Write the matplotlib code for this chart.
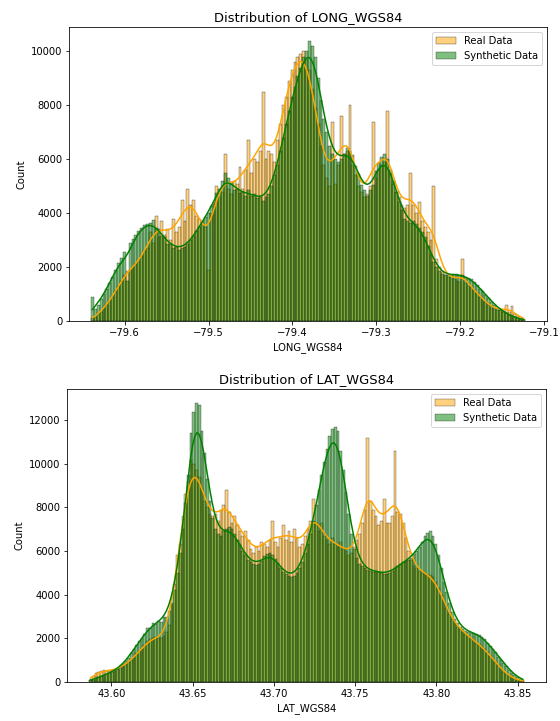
import numpy as np
import matplotlib
matplotlib.use("Agg")
from matplotlib import pyplot as plt
import seaborn as sns

# bin ranges
long_range = (-79.640, -79.123)
lat_range = (43.5862, 43.8541)

# counts per bin (150 bins), LONG_WGS84
long_real = [
  100, 150, 250, 350, 500, 600, 750, 900, 1100, 1300,
  1500, 1700, 1850, 1900, 2000, 2100, 2200, 2400, 2600, 2700,
  3300, 2900, 3900, 3100, 3700, 3200, 3400, 3000, 3800, 3300,
  3500, 4500, 3700, 4900, 4300, 4500, 3900, 3800, 3600, 3500,
  1900, 4000, 4400, 5000, 4600, 4800, 6200, 4900, 4700, 5200,
  5100, 5700, 4900, 5600, 6700, 5500, 6000, 5900, 6300, 8500,
  6000, 6300, 6200, 5900, 6700, 7300, 8000, 8300, 8900, 9300,
  9600, 9800, 9900, 10000, 9700, 9300, 8600, 7900, 7300, 6500,
  5800, 5300, 5000, 7400, 5100, 5800, 7600, 6200, 6300, 8000,
  5800, 5400, 5000, 4800, 4600, 4700, 5000, 7400, 5300, 5600,
  5800, 5900, 7800, 5500, 5100, 4800, 4600, 4300, 4200, 4300,
  5500, 4300, 4000, 4400, 3700, 3500, 3300, 3000, 5000, 2300,
  2000, 1800, 1700, 1650, 1600, 1550, 1500, 1450, 2300, 1400,
  1300, 1250, 1150, 1050, 900, 800, 700, 600, 500, 450,
  420, 400, 380, 600, 350, 550, 250, 180, 120, 60]
long_synth = [
  900, 450, 600, 800, 1000, 1200, 1400, 1650, 1900, 2150,
  2350, 2550, 1500, 2900, 3050, 3200, 3350, 3450, 3550, 3600,
  3650, 3750, 3450, 3400, 3150, 3100, 2850, 2850, 2700, 2750,
  2650, 2700, 2750, 2850, 3000, 3150, 3350, 3500, 3700, 3850,
  4000, 4250, 4350, 4750, 4900, 5200, 5500, 5300, 5150, 4850,
  4900, 4750, 4800, 4650, 4850, 4650, 4700, 4550, 4600, 4450,
  4600, 4700, 5000, 5400, 5800, 6300, 6800, 7300, 7800, 8300,
  8700, 9100, 9400, 9800, 10000, 10400, 10200, 9800, 9000, 8200,
  7500, 7000, 6500, 6200, 6000, 5900, 6000, 6200, 6400, 6300,
  6150, 5750, 5450, 5050, 4850, 4650, 4850, 5050, 5550, 5850,
  6100, 6200, 6000, 5600, 5200, 4800, 4400, 4100, 3800, 3700,
  3650, 3700, 3600, 3450, 3300, 3100, 2800, 2500, 2200, 2000,
  1850, 1750, 1700, 1700, 1700, 1750, 1750, 1700, 1700, 1650,
  1600, 1550, 1450, 1350, 1200, 1100, 950, 850, 700, 600,
  500, 420, 350, 280, 220, 170, 130, 100, 70, 50]

# counts per bin (160 bins), LAT_WGS84
lat_real = [
  80, 250, 400, 450, 500, 550, 500, 480, 520, 550,
  600, 650, 700, 800, 900, 1000, 1100, 1300, 1400, 1500,
  1700, 1850, 1950, 2000, 2050, 2000, 2000, 2100, 2300, 2600,
  3500, 4500, 5800, 6300, 7600, 8600, 9200, 10200, 10000, 9700,
  9400, 8900, 8300, 8000, 7700, 7600, 7700, 7400, 7900, 8100,
  8800, 7800, 7300, 7600, 7200, 6900, 6700, 6900, 6500, 6100,
  5900, 6200, 6000, 6400, 6300, 6200, 6500, 7400, 6400, 6200,
  6600, 7200, 6500, 6900, 6400, 7000, 6600, 6200, 6300, 6700,
  7000, 7400, 8400, 7300, 6900, 7300, 6700, 6500, 6300, 6600,
  6300, 6200, 6400, 6100, 6000, 5800, 5900, 6200, 6500, 6800,
  7300, 7900, 11200, 8300, 7900, 7600, 7200, 7400, 8400, 7300,
  7300, 7600, 10600, 7800, 7700, 7300, 6600, 6000, 5600, 5300,
  5200, 5100, 5000, 5000, 4900, 4900, 4800, 4600, 4300, 4000,
  3700, 3400, 3100, 2900, 2700, 2500, 2400, 2300, 2200, 2100,
  2000, 1900, 1800, 1700, 1600, 1500, 1350, 1200, 1050, 900,
  750, 600, 450, 350, 250, 180, 120, 80, 50, 30]
lat_synth = [
  60, 100, 150, 200, 250, 300, 350, 400, 450, 500,
  600, 700, 800, 950, 1100, 1300, 1500, 1700, 1850, 2000,
  2200, 2450, 2450, 2700, 2650, 2800, 2750, 2950, 2950, 3250,
  3600, 4200, 5000, 5900, 7000, 8200, 9500, 11400, 12400, 12800,
  12700, 11500, 10500, 9300, 8300, 7500, 7000, 6800, 6700, 6900,
  7000, 7100, 7000, 6800, 6500, 6300, 6000, 5800, 5600, 5500,
  5400, 5350, 5400, 5550, 5750, 5850, 5900, 5800, 5650, 5450,
  5200, 5050, 4950, 4850, 4800, 4850, 5000, 5200, 5500, 5900,
  6300, 6800, 7400, 8100, 8800, 9500, 10100, 10700, 11300, 11600,
  11700, 11500, 10600, 9700, 8700, 7700, 6800, 6100, 5700, 5400,
  5300, 5200, 5150, 5100, 5050, 5100, 5050, 5000, 4950, 4950,
  5000, 5100, 5200, 5300, 5400, 5500, 5550, 5600, 5700, 5850,
  6000, 6200, 6400, 6700, 6850, 6900, 6700, 6300, 5800, 5200,
  4600, 4100, 3600, 3200, 2900, 2700, 2500, 2400, 2350, 2300,
  2250, 2250, 2200, 2150, 2050, 1950, 1800, 1650, 1500, 1350,
  1150, 1000, 850, 700, 550, 420, 300, 200, 130, 70]


def draw(ax, rng, real, synth, name):
  nbins = len(real)
  width = (rng[1] - rng[0]) / nbins
  centers = rng[0] + width * (np.arange(nbins) + 0.5)
  for counts, color, label in [(real, 'orange', 'Real Data'),
                               (synth, 'green', 'Synthetic Data')]:
    w = np.asarray(counts, dtype=float)
    # match the kde bandwidth of the raw samples
    n_eff = w.sum() ** 2 / (w ** 2).sum()
    adj = (n_eff / w.sum()) ** 0.2
    sns.histplot(x=centers, weights=w, bins=nbins, binrange=rng, kde=True,
                 color=color, alpha=0.5, label=label, ax=ax,
                 kde_kws={'bw_adjust': adj})
  ax.set_title(f"Distribution of {name}", fontsize=13)
  ax.set_xlabel(name)
  ax.set_ylabel("Count")
  ax.legend(loc='upper right')


fig = plt.figure(figsize=(560 / 72, 721 / 72), dpi=72)
ax1 = fig.add_axes([0.1238, 0.5548, 0.8524, 0.4082])
ax2 = fig.add_axes([0.1202, 0.0545, 0.8548, 0.4060])
draw(ax1, long_range, long_real, long_synth, "LONG_WGS84")
draw(ax2, lat_range, lat_real, lat_synth, "LAT_WGS84")
fig.savefig("out.png", dpi=72)
